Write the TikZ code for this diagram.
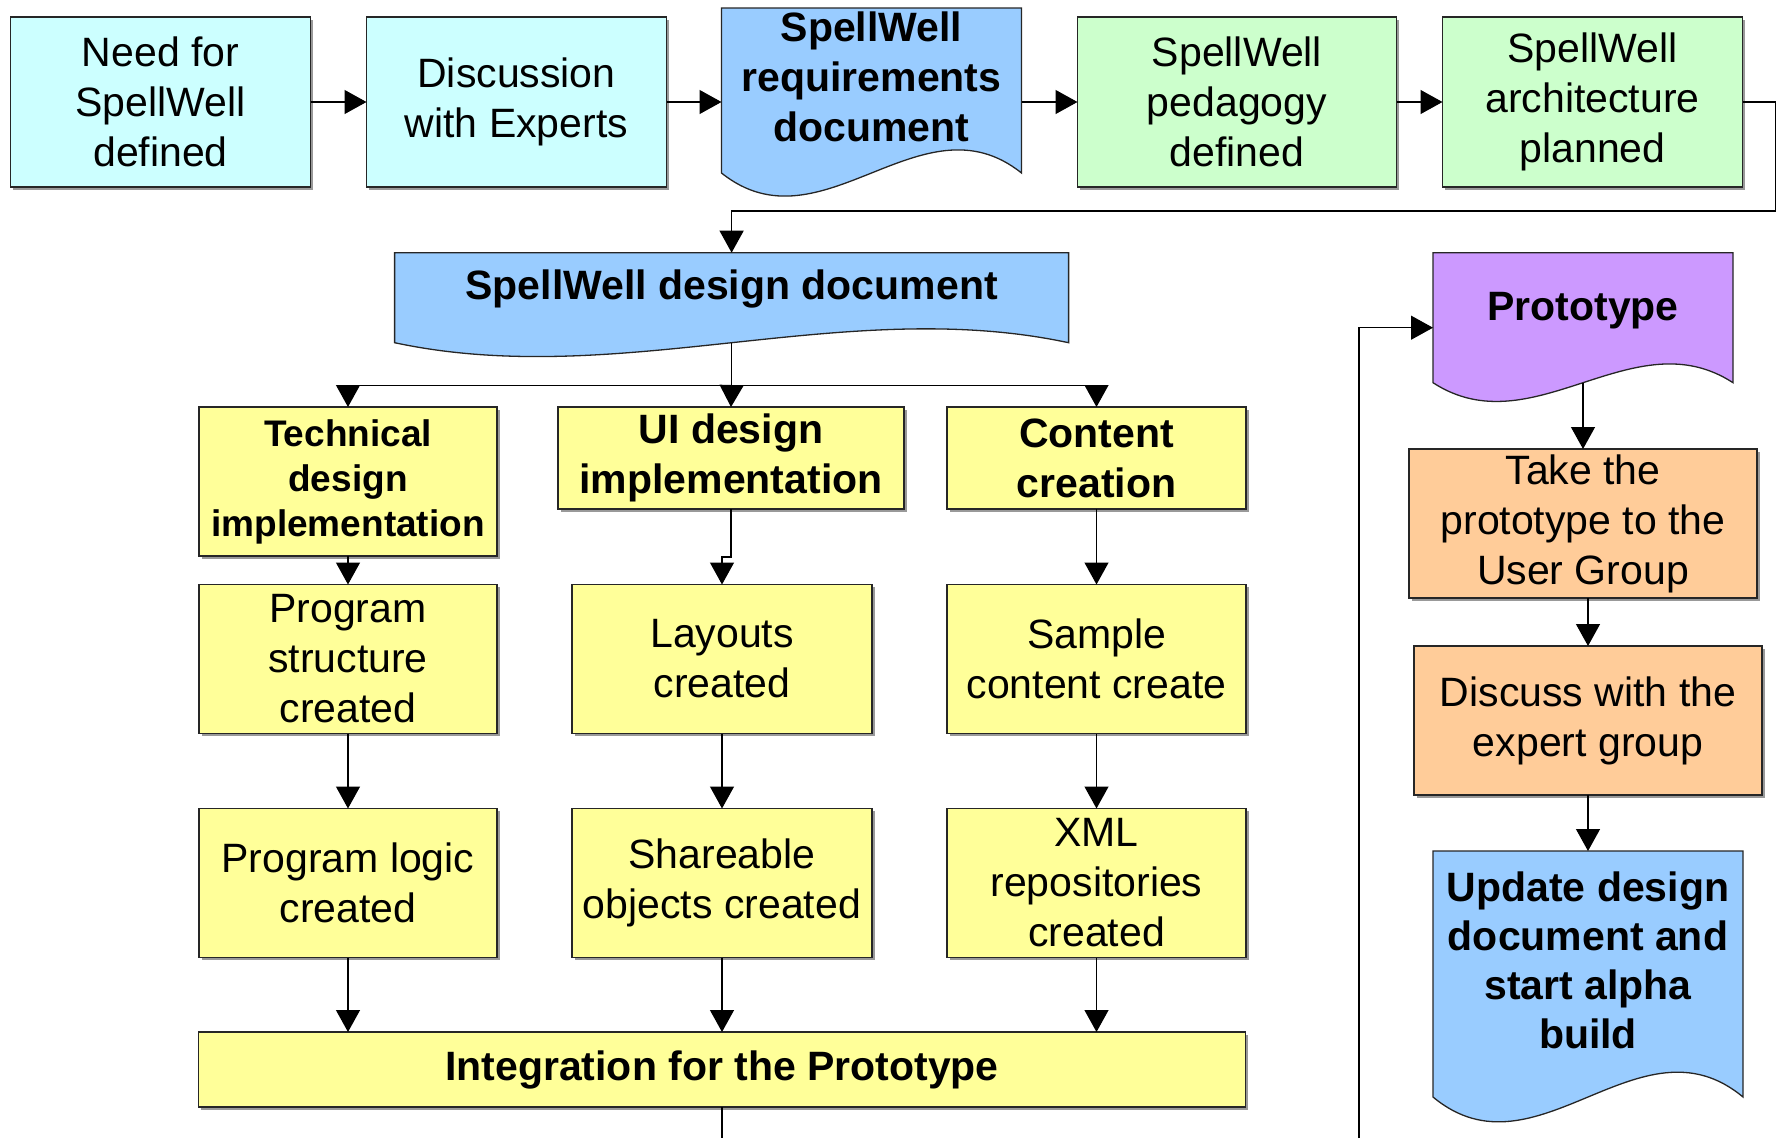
\documentclass[tikz,border=0pt]{standalone}
\usepackage{fontspec}
\setmainfont{Liberation Sans}
\usetikzlibrary{positioning,calc,arrows.meta,shadows,backgrounds}

\definecolor{aqua}{HTML}{CCFFFF}
\definecolor{mint}{HTML}{CCFFCC}
\definecolor{sky}{HTML}{99CCFF}
\definecolor{lemon}{HTML}{FFFF99}
\definecolor{lilac}{HTML}{CC99FF}
\definecolor{peach}{HTML}{FFCC99}

\tikzset{
  >={Triangle[length=22pt,width=24pt]},
  box/.style={draw=black!85, line width=1.3pt, align=center, inner sep=0pt, outer sep=0pt,
    minimum width=300pt, minimum height=170pt,
    font=\fontsize{41}{50}\selectfont,
    drop shadow={shadow xshift=2.5pt,shadow yshift=-2.5pt,fill=black!40,opacity=1}},
  task/.style={box, fill=lemon, minimum height=149pt},
  doc/.style={align=center, inner sep=0pt, outer sep=0pt, font=\fontsize{41}{50}\selectfont\bfseries},
  flow/.style={line width=1.3pt},
}

\begin{document}
\begin{tikzpicture}[x=1pt,y=1pt]
\useasboundingbox (0,0) rectangle (1783,-1138);

% planning row
\node[box,fill=aqua] (need) at (160.5,-102) {Need for\\SpellWell\\defined};
\node[box,fill=aqua] (talk) [right=56pt of need] {Discussion\\with Experts};
\node[doc,minimum width=300pt,minimum height=138pt] (reqs) [right=55pt of talk,yshift=25pt] {SpellWell\\requirements\\document};
\node[box,fill=mint,minimum width=319pt] (pedagogy) [right=56pt of reqs,yshift=-25pt] {SpellWell\\pedagogy\\defined};
\node[box,fill=mint] (arch) [right=46pt of pedagogy] {SpellWell\\architecture\\planned};

% design and the three work streams
\node[doc,minimum width=674pt,minimum height=73pt,anchor=north] (design) at (731.6,-252.7) {SpellWell design document};

\node[task,minimum width=298pt,anchor=north,font=\fontsize{37}{45}\selectfont\bfseries] (techimpl) at (348,-407) {Technical\\design\\implementation};
\node[task,minimum width=346pt,minimum height=102pt,anchor=north,font=\fontsize{41}{50}\selectfont\bfseries] (uiimpl) at (731,-407) {UI design\\implementation};
\node[task,minimum width=299pt,minimum height=102pt,anchor=north,font=\fontsize{41}{50}\selectfont\bfseries] (content) at (1096.5,-407) {Content\\creation};

\node[task,minimum width=298pt] (structure) [below=28.5pt of techimpl] {Program\\structure\\created};
\node[task] (layouts) [right=75pt of structure] {Layouts\\created};
\node[task,minimum width=299pt] (sample) [below=75.5pt of content] {Sample\\content create};

\node[task,minimum width=298pt] (logic) [below=75pt of structure] {Program logic\\created};
\node[task] (shareable) [below=75pt of layouts] {Shareable\\objects created};
\node[task,minimum width=299pt] (xml) [below=75pt of sample] {XML\\repositories\\created};

\node[task,minimum width=1047pt,minimum height=75pt,font=\fontsize{41}{50}\selectfont\bfseries] (integ) [below=74.5pt of shareable] {Integration for the Prototype};

% prototype review
\node[doc,minimum width=300pt,minimum height=115pt,anchor=north] (proto) at (1583,-252.7) {Prototype};
\node[box,fill=peach,minimum width=348pt,minimum height=149pt,anchor=north] (usergroup) at (1583,-449) {Take the\\prototype to the\\User Group};
\node[box,fill=peach,minimum width=348pt,minimum height=149pt] (experts) [below=48pt of usergroup,xshift=5pt] {Discuss with the\\expert group};
\node[doc,minimum width=310pt,minimum height=218pt,font=\fontsize{41}{49}\selectfont\bfseries] (update) [below=56pt of experts] {Update design\\document and\\start alpha\\build};

% wavy document outlines
\begin{scope}[on background layer]
\foreach \n/\d/\a/\c in {reqs/165/80/sky, design/90/48/sky, proto/130/65/lilac, update/246/86/sky}{
  \draw[flow,draw=black!85,fill=\c] (\n.north west) -- (\n.north east) -- ($(\n.north east)+(0,-\d)$)
    .. controls ($(\n.north east)!1/3!(\n.north west)+(0,{\a-\d})$)
    and ($(\n.north east)!2/3!(\n.north west)+(0,{-\a-\d})$)
    .. ($(\n.north west)+(0,-\d)$) -- cycle;
}
\end{scope}

\coordinate (designfoot) at ($(design.north)+(0,-90)$);
\coordinate (split) at ($(designfoot)+(0,-43)$);
\coordinate (protofoot) at ($(proto.north)+(0,-130)$);
\coordinate (integout) at (integ.south |- 0,-1138);
\coordinate (loopin) at (1359,-1138);

% connectors
\draw[flow,->] (need) -- (talk);
\draw[flow,->] (talk.east) -- (talk.east -| reqs.west);
\draw[flow,->] (pedagogy.west -| reqs.east) -- (pedagogy.west);
\draw[flow,->] (pedagogy) -- (arch);
\draw[flow,->] (arch.east) -- ++(33,0) -- ++(0,-109) -| (design.north);
\draw[flow] (designfoot) -- (split);
\draw[flow,->] (split) -| (techimpl.north);
\draw[flow,->] (split) -- (uiimpl.north);
\draw[flow,->] (split) -| (content.north);
\draw[flow,->] (techimpl) -- (structure);
\draw[flow,->] (uiimpl.south) -- ++(0,-48) -| (layouts.north);
\draw[flow,->] (content) -- (sample);
\draw[flow,->] (structure) -- (logic);
\draw[flow,->] (layouts) -- (shareable);
\draw[flow,->] (sample) -- (xml);
\draw[flow,->] (logic.south) -- (logic.south |- integ.north);
\draw[flow,->] (shareable.south) -- (shareable.south |- integ.north);
\draw[flow,->] (xml.south) -- (xml.south |- integ.north);
\draw[flow] (integ.south) -- (integout);
\draw[flow,->] (loopin) |- ($(proto.north west)+(0,-75)$);
\draw[flow,->] (protofoot) -- (usergroup.north);
\draw[flow,->] (experts.north |- usergroup.south) -- (experts.north);
\draw[flow,->] (experts) -- (update.north);
\end{tikzpicture}
\end{document}
